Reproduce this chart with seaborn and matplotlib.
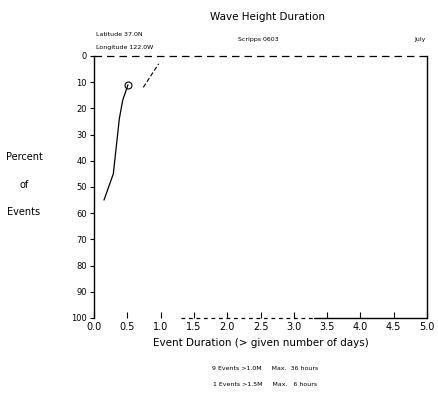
import pandas as pd
import seaborn as sns
import matplotlib
matplotlib.use('Agg')
import matplotlib.pyplot as plt

# exceedance curves
dur_1m = [0.51, 0.43, 0.38, 0.29, 0.15]
pct_1m = [11, 17, 24, 45, 55]
dur_15m = [0.74, 0.97]
pct_15m = [12, 3]

x_ticks = [0.0, 0.5, 1.0, 1.5, 2.0, 2.5, 3.0, 3.5, 4.0, 4.5, 5.0]
y_ticks = [0, 10, 20, 30, 40, 50, 60, 70, 80, 90, 100]

summary = ['9 Events >1.0M     Max.  36 hours',
           '1 Events >1.5M     Max.   6 hours']

sns.set_style('white')
plt.rcParams['font.family'] = ['DejaVu Sans']
plt.rcParams['text.color'] = 'black'
plt.rcParams['axes.labelcolor'] = 'black'
plt.rcParams['xtick.color'] = 'black'
plt.rcParams['ytick.color'] = 'black'

fig = plt.figure(figsize=(4.38, 3.94), dpi=100)
ax = fig.add_axes([0.2146, 0.193, 0.7604, 0.665])

df1 = pd.DataFrame({'dur': dur_1m, 'pct': pct_1m})
df2 = pd.DataFrame({'dur': dur_15m, 'pct': pct_15m})
sns.lineplot(x='dur', y='pct', data=df1, sort=False, color='black', linewidth=0.9, ax=ax)
sns.lineplot(x='dur', y='pct', data=df2, sort=False, color='black', linewidth=0.8,
             linestyle=(0, (4, 2)), ax=ax)
ax.plot(dur_1m[0], pct_1m[0], marker='o', markersize=5, fillstyle='none',
        color='black', markeredgewidth=0.8)

# reference lines at 0% and 100%
ax.plot([0.0, 5.0], [0, 0], color='black', linewidth=0.9, linestyle=(0, (6, 4)), clip_on=False)
ax.plot([1.3, 3.3], [100, 100], color='black', linewidth=0.9, linestyle=(0, (3, 3)), clip_on=False)
ax.plot([3.3, 5.0], [100, 100], color='black', linewidth=1.0, clip_on=False)

ax.set_xlim(0, 5.0)
ax.set_ylim(100, 0)
ax.set_xticks(x_ticks)
ax.set_xticklabels(['%.1f' % v for v in x_ticks], fontsize=7)
ax.set_yticks(y_ticks)
ax.set_yticklabels([str(v) for v in y_ticks], fontsize=6)
ax.tick_params(axis='x', direction='in', length=4, width=0.8, pad=3)
ax.tick_params(axis='y', direction='out', length=3, width=0.8, pad=2)
ax.xaxis.set_ticks_position('bottom')
ax.yaxis.set_ticks_position('left')
for side in ['top', 'bottom']:
    ax.spines[side].set_visible(False)
for side in ['left', 'right']:
    ax.spines[side].set_color('black')
    ax.spines[side].set_linewidth(1.0)
ax.set_xlabel('Event Duration (> given number of days)', fontsize=7.5, labelpad=4)
ax.set_ylabel('')

fig.text(268 / 438, 1 - 17 / 394, 'Wave Height Duration', ha='center', va='center', fontsize=7.5)
fig.text(96 / 438, 1 - 35 / 394, 'Latitude 37.0N', ha='left', va='center', fontsize=4.5)
fig.text(96 / 438, 1 - 47 / 394, 'Longitude 122.0W', ha='left', va='center', fontsize=4.5)
fig.text(258 / 438, 1 - 40 / 394, 'Scripps 0603', ha='center', va='center', fontsize=4.5)
fig.text(420 / 438, 1 - 40 / 394, 'July', ha='center', va='center', fontsize=4.5)
fig.text(24 / 438, 1 - 157 / 394, 'Percent', ha='center', va='center', fontsize=7)
fig.text(24 / 438, 1 - 185 / 394, 'of', ha='center', va='center', fontsize=7)
fig.text(24 / 438, 1 - 212 / 394, 'Events', ha='center', va='center', fontsize=7)
fig.text(265 / 438, 1 - 368 / 394, summary[0], ha='center', va='center', fontsize=4.5)
fig.text(265 / 438, 1 - 385 / 394, summary[1], ha='center', va='center', fontsize=4.5)

fig.savefig('out.png', dpi=100)
